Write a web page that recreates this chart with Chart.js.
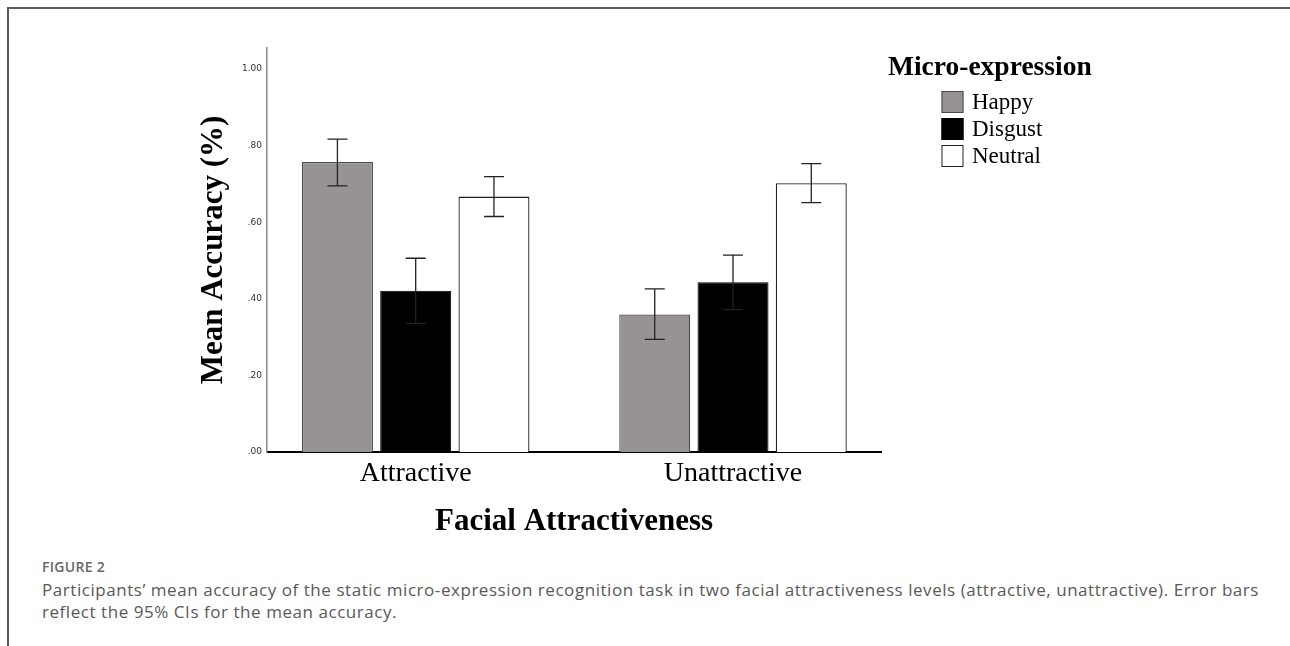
<!DOCTYPE html>
<html>
<head>
<meta charset="utf-8">
<script src="https://cdn.jsdelivr.net/npm/chart.js@4"></script>
<style>
  html, body { margin: 0; padding: 0; background: #fff; }
  body { width: 1290px; height: 646px; position: relative; overflow: hidden; }
  #frame { position: absolute; left: 7px; top: 7px; width: 1283px; height: 660px;
           border-top: 2px solid #5a5a5a; border-left: 2px solid #5a5a5a; box-sizing: border-box; }
  #wrap { position: absolute; left: 0; top: 0; width: 1290px; height: 550px; }
  #fig { position: absolute; left: 42px; top: 557px; font-family: "Open Sans", sans-serif;
         font-size: 14px; font-weight: 600; color: #666; letter-spacing: 0.3px; }
  #cap { position: absolute; left: 42px; top: 579px; font-family: "Open Sans", sans-serif;
         font-size: 17px; letter-spacing: 0.55px; line-height: 22px; color: #595959; white-space: nowrap; }
</style>
</head>
<body>
<div id="frame"></div>
<div id="wrap"><canvas id="c" width="1290" height="550"></canvas></div>
<div id="fig">FIGURE 2</div>
<div id="cap">Participants’ mean accuracy of the static micro-expression recognition task in two facial attractiveness levels (attractive, unattractive). Error bars<br>reflect the 95% CIs for the mean accuracy.</div>
<script>
// ---- data ----
const categories = ['Attractive', 'Unattractive'];
const seriesNames = ['Happy', 'Disgust', 'Neutral'];
const legendTitle = 'Micro-expression';
const happy   = [0.757, 0.359];
const disgust = [0.421, 0.443];
const neutral = [0.667, 0.702];
const happyLow    = [0.695, 0.294];
const happyHigh   = [0.817, 0.426];
const disgustLow  = [0.336, 0.372];
const disgustHigh = [0.506, 0.514];
const neutralLow  = [0.615, 0.651];
const neutralHigh = [0.719, 0.753];
const yTicks = [0, 0.2, 0.4, 0.6, 0.8, 1.0];

const serif = "'Liberation Serif', 'Times New Roman', serif";

const toXY = arr => arr.map((v, i) => ({ x: i, y: v }));
const lows  = [happyLow, disgustLow, neutralLow];
const highs = [happyHigh, disgustHigh, neutralHigh];

const errorBars = {
  id: 'errorBars',
  afterDatasetsDraw(chart) {
    const ctx = chart.ctx;
    const ys = chart.scales.y;
    ctx.save();
    ctx.strokeStyle = '#222';
    ctx.lineWidth = 1.3;
    chart.data.datasets.forEach((ds, d) => {
      const meta = chart.getDatasetMeta(d);
      meta.data.forEach((bar, i) => {
        const x = bar.x;
        const yH = ys.getPixelForValue(highs[d][i]);
        const yL = ys.getPixelForValue(lows[d][i]);
        const cap = 10;
        ctx.beginPath();
        ctx.moveTo(x, yH); ctx.lineTo(x, yL);
        ctx.moveTo(x - cap, yH); ctx.lineTo(x + cap, yH);
        ctx.moveTo(x - cap, yL); ctx.lineTo(x + cap, yL);
        ctx.stroke();
      });
    });
    ctx.restore();
  }
};

// legend drawn from the datasets (title wider than the item column)
const sideLegend = {
  id: 'sideLegend',
  afterDraw(chart, args, o) {
    const ctx = chart.ctx;
    ctx.save();
    ctx.fillStyle = '#000';
    ctx.textAlign = 'left';
    ctx.textBaseline = 'middle';
    ctx.font = 'bold 27.5px ' + serif;
    ctx.fillText(o.title, o.titleX, o.titleY);
    ctx.font = '23px ' + serif;
    chart.data.datasets.forEach((ds, i) => {
      const top = o.boxY + i * o.rowH;
      ctx.fillStyle = ds.backgroundColor;
      ctx.fillRect(o.boxX, top, o.box, o.box);
      ctx.strokeStyle = ds.borderColor;
      ctx.lineWidth = 1;
      ctx.strokeRect(o.boxX + 0.5, top + 0.5, o.box - 1, o.box - 1);
      ctx.fillStyle = '#000';
      ctx.fillText(ds.label, o.textX, top + o.box / 2 + 1);
    });
    ctx.restore();
  }
};

new Chart(document.getElementById('c'), {
  type: 'bar',
  data: {
    datasets: [
      { label: seriesNames[0], data: toXY(happy),   backgroundColor: '#979392', borderColor: '#4a4a4a', borderWidth: 1.2 },
      { label: seriesNames[1], data: toXY(disgust), backgroundColor: '#000000', borderColor: '#000000', borderWidth: 1 },
      { label: seriesNames[2], data: toXY(neutral), backgroundColor: '#ffffff', borderColor: '#222222', borderWidth: 1.3 }
    ]
  },
  options: {
    responsive: false,
    animation: false,
    categoryPercentage: 0.74,
    barPercentage: 0.907,
    layout: { padding: { left: 180, top: 48, right: 409, bottom: 0 } },
    plugins: {
      tooltip: { enabled: false },
      legend: { display: false },
      sideLegend: { title: legendTitle, titleX: 888, titleY: 68, boxX: 941.5, boxY: 91, rowH: 27, box: 22, textX: 972 }
    },
    scales: {
      x: {
        type: 'linear',
        offset: false,
        min: -0.4686,
        max: 1.4664,
        grid: { display: false, drawTicks: false, offset: false },
        border: { display: true, color: '#000', width: 2 },
        afterBuildTicks: s => { s.ticks = categories.map((c, i) => ({ value: i })); },
        afterFit: s => { s.height = 98; },
        ticks: {
          padding: 5,
          color: '#000',
          font: { family: serif, size: 28 },
          callback: (v, i) => categories[i]
        },
        title: {
          display: true,
          text: 'Facial Attractiveness',
          color: '#000',
          font: { family: serif, size: 31, weight: 'bold' },
          padding: { top: 0, bottom: 9 }
        }
      },
      y: {
        type: 'linear',
        position: 'left',
        min: 0,
        max: 1.055,
        grid: { display: false, drawTicks: false },
        border: { display: true, color: '#8a8a8a', width: 1.5 },
        afterBuildTicks: s => { s.ticks = yTicks.map(v => ({ value: v })); },
        afterFit: s => { s.width = 87; },
        ticks: {
          padding: 5,
          color: '#333',
          font: { family: "'DejaVu Sans', sans-serif", size: 9 },
          callback: v => v.toFixed(2).replace(/^0/, '')
        },
        title: {
          display: true,
          text: 'Mean Accuracy (%)',
          color: '#000',
          font: { family: serif, size: 31, weight: 'bold' },
          padding: { top: 15, bottom: 0 }
        }
      }
    }
  },
  plugins: [errorBars, sideLegend]
});
</script>
</body>
</html>
